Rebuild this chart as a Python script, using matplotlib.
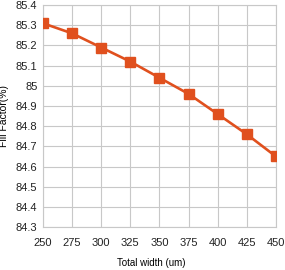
import matplotlib
matplotlib.use("Agg")
import matplotlib.pyplot as plt

widths = [250, 275, 300, 325, 350, 375, 400, 425, 450]
fill_factor = [85.31, 85.26, 85.19, 85.12, 85.04, 84.96, 84.86, 84.76, 84.65]
yticks = [84.3, 84.4, 84.5, 84.6, 84.7, 84.8, 84.9, 85.0, 85.1, 85.2, 85.3, 85.4]
ytick_labels = ["84.3", "84.4", "84.5", "84.6", "84.7", "84.8", "84.9", "85", "85.1", "85.2", "85.3", "85.4"]

plt.rcParams['font.family'] = ['Liberation Sans Narrow', 'Liberation Sans', 'DejaVu Sans']

fig = plt.figure(figsize=(2.85, 2.7), dpi=100)
ax = fig.add_axes([0.151, 0.159, 0.817, 0.822])
ax.plot(widths, fill_factor, color='#E0501E', lw=1.9, marker='s', markersize=7,
        markerfacecolor='#E0501E', markeredgecolor='#E0501E', zorder=3)
ax.set_xlim(250, 450)
ax.set_ylim(84.3, 85.4)
ax.set_xticks(widths)
ax.set_yticks(yticks)
ax.set_yticklabels(ytick_labels)
ax.grid(True, color='#c8c8c8', lw=0.8)
for s in ax.spines.values():
    s.set_color('#c8c8c8')
    s.set_linewidth(0.8)
ax.tick_params(length=0, labelsize=8, colors='#222222')
ax.tick_params(axis='y', pad=4)
ax.tick_params(axis='x', pad=8)
ax.set_xlabel('Total width (um)', fontsize=7, labelpad=7)
ax.xaxis.label.set_x(0.465)
ax.set_ylabel('Fill Factor(%)', fontsize=7.5, labelpad=5)
fig.savefig('out.png', dpi=100)
